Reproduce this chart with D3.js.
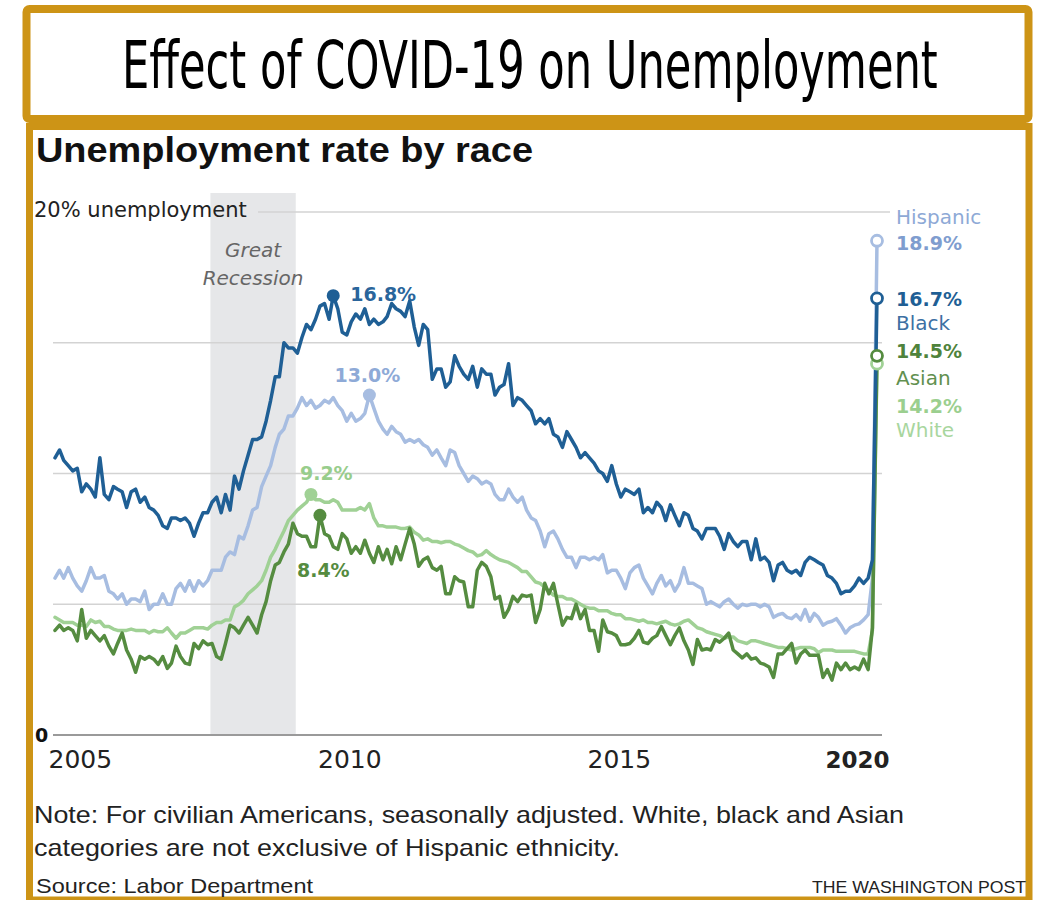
<!DOCTYPE html>
<html>
<head>
<meta charset="utf-8">
<script src="https://cdn.jsdelivr.net/npm/d3@7"></script>
<style>
  html, body { margin: 0; padding: 0; background: #ffffff; }
  svg { display: block; }
</style>
</head>
<body>
<svg id="chart" width="1043" height="900"></svg>
<script>
// ---------------- DATA (monthly, Jan 2005 – Apr 2020, percent) ----------------
const startMonth = "2005-01";
const endMonth = "2020-04";

const black = [
  10.6, 10.9, 10.5, 10.3, 10.1, 10.2, 9.3, 9.6, 9.4, 9.1, 10.6, 9.2,
  9.0, 9.5, 9.4, 9.3, 8.7, 9.3, 9.4, 8.9, 9.1, 8.7, 8.6, 8.4,
  8.0, 7.9, 8.3, 8.3, 8.2, 8.3, 8.1, 7.6, 8.1, 8.5, 8.5, 8.9,
  9.1, 8.5, 9.2, 8.6, 9.9, 9.4, 10.1, 10.7, 11.3, 11.3, 11.4, 12.0,
  12.8, 13.7, 13.7, 15.0, 14.8, 14.8, 14.6, 15.2, 15.7, 15.5, 15.9, 16.4,
  16.5, 15.9, 16.8, 16.3, 15.4, 15.3, 15.8, 16.1, 15.9, 16.3, 15.7, 15.9,
  15.7, 15.8, 16.0, 16.5, 16.3, 16.2, 16.0, 16.6, 15.6, 14.9, 15.7, 15.5,
  13.6, 14.0, 14.0, 13.3, 13.5, 14.5, 14.1, 13.8, 13.6, 14.1, 13.3, 14.0,
  13.8, 13.8, 13.0, 13.3, 13.4, 14.2, 12.6, 12.9, 12.8, 12.6, 12.4, 11.9,
  12.1, 11.9, 12.1, 11.5, 11.4, 11.0, 11.6, 11.3, 11.0, 10.6, 10.8, 10.6,
  10.4, 10.1, 10.0, 9.7, 10.3, 9.6, 9.1, 9.4, 9.3, 9.2, 9.4, 8.5,
  8.7, 8.5, 8.9, 8.7, 8.2, 8.8, 8.4, 8.0, 8.5, 8.4, 7.9, 7.8,
  7.5, 7.9, 7.9, 7.9, 7.6, 7.1, 7.7, 7.4, 7.2, 7.4, 7.4, 6.7,
  7.5, 6.7, 6.8, 6.6, 5.9, 6.5, 6.6, 6.3, 6.2, 6.3, 6.1, 6.6,
  6.8, 6.7, 6.6, 6.5, 6.1, 6.0, 5.8, 5.4, 5.5, 5.5, 5.7, 6.0,
  5.8, 6.0, 6.7, 16.7
];

const hispanic = [
  6.0, 6.3, 6.0, 6.4, 6.0, 5.7, 5.5, 5.9, 6.4, 6.0, 6.0, 6.1,
  5.5, 5.4, 5.2, 5.4, 5.0, 5.2, 5.2, 5.1, 5.5, 4.8, 5.0, 5.0,
  5.4, 5.0, 5.0, 5.6, 5.8, 5.5, 5.9, 5.5, 5.9, 5.7, 5.9, 6.3,
  6.3, 6.3, 6.8, 7.0, 6.9, 7.6, 7.5, 8.0, 8.6, 8.7, 9.5, 9.9,
  10.3, 11.0, 11.5, 11.7, 12.2, 12.2, 12.5, 12.9, 12.6, 12.8, 12.5, 12.6,
  12.8, 12.7, 12.9, 12.6, 12.4, 12.0, 12.3, 12.0, 12.1, 12.3, 13.0, 12.5,
  12.0, 11.7, 11.5, 11.8, 11.6, 11.5, 11.2, 11.3, 11.2, 11.3, 11.1, 11.0,
  10.7, 10.9, 10.6, 10.3, 10.9, 10.8, 10.3, 10.0, 9.7, 9.9, 9.8, 9.6,
  9.7, 9.6, 9.2, 9.0, 9.0, 9.4, 9.1, 8.9, 9.1, 8.6, 8.3, 8.2,
  7.8, 7.2, 7.7, 7.8, 7.5, 7.1, 6.8, 6.8, 6.4, 6.8, 6.8, 6.7,
  6.8, 6.7, 6.9, 6.2, 6.3, 6.3, 6.0, 5.6, 6.2, 6.4, 6.5, 6.0,
  5.7, 5.4, 5.8, 6.1, 5.7, 5.9, 5.5, 5.8, 6.4, 5.8, 5.8, 5.7,
  5.6, 5.0, 5.1, 5.0, 4.9, 5.1, 5.2, 5.0, 4.85, 5.0, 4.95, 5.0,
  5.0, 4.9, 5.0, 4.9, 4.5, 4.6, 4.65, 4.5, 4.45, 4.6, 4.4, 4.8,
  4.35, 4.65, 4.5, 4.2, 4.3, 4.35, 4.45, 4.2, 3.9, 4.1, 4.2, 4.25,
  4.4, 4.6, 6.0, 18.9
];

const white = [
  4.5, 4.4, 4.3, 4.3, 4.3, 4.2, 4.2, 4.15, 4.4, 4.3, 4.35, 4.15,
  4.15, 4.05, 4.0, 4.0, 4.0, 4.05, 4.0, 4.0, 4.0, 3.9, 4.0, 3.95,
  3.95, 4.1, 3.9, 3.7, 3.9, 3.9, 4.0, 4.1, 4.1, 4.1, 4.05, 4.2,
  4.3, 4.3, 4.4, 4.4, 4.9, 5.0, 5.15, 5.4, 5.55, 5.7, 5.9, 6.3,
  6.8, 7.1, 7.45, 7.8, 8.2, 8.4, 8.6, 8.75, 8.9, 9.2, 9.0, 9.0,
  8.9, 8.9, 9.0, 8.9, 8.6, 8.6, 8.6, 8.6, 8.7, 8.6, 8.85, 8.3,
  8.0, 8.0, 7.95, 7.95, 7.95, 7.9, 7.9, 7.95, 7.75, 7.65, 7.45, 7.5,
  7.4, 7.4, 7.35, 7.4, 7.4, 7.3, 7.25, 7.15, 7.05, 7.0, 6.85, 6.9,
  7.05, 6.9, 6.8, 6.7, 6.65, 6.6, 6.5, 6.4, 6.25, 6.25, 6.05, 5.85,
  5.8, 5.65, 5.5, 5.35, 5.3, 5.3, 5.2, 5.2, 5.1, 5.0, 4.9, 4.85,
  4.85, 4.75, 4.75, 4.75, 4.65, 4.6, 4.6, 4.45, 4.45, 4.4, 4.35, 4.4,
  4.3, 4.3, 4.25, 4.3, 4.35, 4.25, 4.2, 4.25, 4.35, 4.4, 4.25, 4.1,
  4.05, 3.95, 3.9, 3.85, 3.8, 3.7, 3.75, 3.75, 3.6, 3.55, 3.5, 3.6,
  3.6, 3.55, 3.5, 3.45, 3.4, 3.35, 3.35, 3.3, 3.25, 3.3, 3.35, 3.35,
  3.35, 3.3, 3.15, 3.25, 3.25, 3.25, 3.2, 3.2, 3.2, 3.2, 3.2, 3.15,
  3.1, 3.1, 4.0, 14.2
];

const asian = [
  4.0, 4.2, 4.0, 4.1, 4.0, 3.6, 4.8, 3.7, 4.0, 3.8, 3.6, 3.8,
  3.4, 3.1, 3.5, 3.9, 3.25, 2.9, 2.4, 3.0, 2.9, 3.0, 2.9, 2.7,
  3.0, 2.55, 2.75, 3.4, 3.0, 2.75, 2.7, 3.5, 3.3, 3.6, 3.45, 3.5,
  3.0, 2.9, 3.5, 4.2, 4.1, 3.9, 4.2, 4.5, 4.2, 3.9, 4.6, 5.1,
  5.9, 6.5, 6.6, 7.0, 7.3, 8.1, 7.7, 7.6, 7.6, 7.2, 7.2, 8.4,
  7.7, 7.6, 7.2, 7.1, 7.7, 7.5, 6.95, 7.2, 6.95, 7.45, 6.95, 6.6,
  7.2, 6.7, 7.1, 6.55, 7.2, 6.7, 7.3, 7.9, 7.3, 6.45, 6.7, 6.8,
  6.4, 6.3, 6.45, 5.4, 5.4, 6.05, 5.9, 5.85, 4.9, 4.9, 6.3, 6.6,
  6.45, 6.05, 5.2, 5.3, 4.5, 4.8, 5.3, 5.1, 5.35, 5.3, 5.35, 4.3,
  4.8, 5.8, 5.4, 5.8, 5.0, 4.2, 4.5, 4.45, 5.0, 4.45, 4.8, 4.0,
  4.0, 3.2, 4.4, 3.95, 3.9, 3.8, 3.45, 3.45, 3.5, 3.7, 4.0, 3.55,
  3.5, 3.7, 3.8, 4.15, 3.8, 3.45, 3.8, 4.1, 3.6, 3.25, 2.7, 3.65,
  3.25, 3.3, 3.25, 3.65, 3.55, 3.7, 3.9, 3.25, 3.1, 2.95, 3.1, 2.9,
  2.95, 2.75, 2.7, 2.6, 2.2, 3.1, 3.1, 3.3, 3.5, 2.75, 3.1, 3.25,
  3.05, 3.05, 3.05, 2.2, 2.5, 2.1, 2.75, 2.5, 2.75, 2.5, 2.6, 2.5,
  2.9, 2.5, 4.1, 14.5
];

const yTicks = [0, 5, 10, 15, 20];
const xTickYears = [2005, 2010, 2015, 2020];
const recession = ["2007-11-20", "2009-06-20"];

// peak annotations
const peaks = [
  { key: "black",    month: "2010-03", label: "16.8%" },
  { key: "hispanic", month: "2010-11", label: "13.0%" },
  { key: "white",    month: "2009-10", label: "9.2%" },
  { key: "asian",    month: "2009-12", label: "8.4%" }
];

const seriesNames = ["Hispanic", "Black", "Asian", "White"];
const latestLabels = ["18.9%", "16.7%", "14.5%", "14.2%"];

// ---------------- SETUP ----------------
const parseMonth = d3.timeParse("%Y-%m");
const parseDay = d3.timeParse("%Y-%m-%d");
const months = d3.timeMonth.range(parseMonth(startMonth), d3.timeMonth.offset(parseMonth(endMonth), 1));

const colors = {
  black: "#1f5f95",
  hispanic: "#a7bde1",
  white: "#a0d195",
  asian: "#558c40"
};
const seriesData = { black, hispanic, white, asian };

const svg = d3.select("#chart");
const gold = "#cd9416";

// frames
svg.append("rect").attr("x", 26.5).attr("y", 9).attr("width", 1002).attr("height", 110)
  .attr("rx", 3).attr("fill", "#fff").attr("stroke", gold).attr("stroke-width", 8);
svg.append("rect").attr("x", 29.5).attr("y", 126.5).attr("width", 999.5).attr("height", 773.5)
  .attr("fill", "#fff").attr("stroke", gold).attr("stroke-width", 7);

// main title: condensed look via horizontal scale fitted to the measured width
const titleG = svg.append("g");
const titleText = titleG.append("text")
  .attr("x", 0).attr("y", 0)
  .style("font-family", "'Liberation Sans Narrow', 'DejaVu Sans Condensed', 'Liberation Sans', sans-serif")
  .style("font-size", "65px").attr("fill", "#000")
  .text("Effect of COVID-19 on Unemployment");
const titleW = titleText.node().getComputedTextLength();
titleG.attr("transform", `translate(122,88) scale(${816 / titleW},1)`);

// chart title
svg.append("text")
  .attr("x", 36).attr("y", 162)
  .attr("textLength", 497).attr("lengthAdjust", "spacingAndGlyphs")
  .style("font-family", "'Liberation Sans', Arial, sans-serif")
  .style("font-weight", "bold").style("font-size", "35px").attr("fill", "#111")
  .text("Unemployment rate by race");

const x = d3.scaleTime()
  .domain([parseMonth(startMonth), parseMonth(endMonth)])
  .range([55, 877]);
const y = d3.scaleLinear().domain([0, 20]).range([735, 212]);

const chartFont = "'DejaVu Sans', sans-serif";

// recession band
svg.append("rect")
  .attr("x", x(parseDay(recession[0])))
  .attr("y", 193)
  .attr("width", x(parseDay(recession[1])) - x(parseDay(recession[0])))
  .attr("height", y(0) - 193)
  .attr("fill", "#e6e7e9");

const recX = (x(parseDay(recession[0])) + x(parseDay(recession[1]))) / 2;
svg.append("text").attr("x", recX).attr("y", 257).attr("text-anchor", "middle")
  .style("font-family", chartFont).style("font-style", "italic").style("font-size", "20px")
  .attr("fill", "#666").text("Great");
svg.append("text").attr("x", recX).attr("y", 285).attr("text-anchor", "middle")
  .style("font-family", chartFont).style("font-style", "italic").style("font-size", "20px")
  .attr("fill", "#666").text("Recession");

// gridlines
const grid = svg.append("g");
grid.selectAll("line").data(yTicks).join("line")
  .attr("x1", d => d === 20 ? 258 : 53)
  .attr("x2", d => d === 20 ? 890 : 882)
  .attr("y1", d => y(d)).attr("y2", d => y(d))
  .attr("stroke", d => d === 0 ? "#9a9a9a" : "#d3d3d3")
  .attr("stroke-width", d => d === 0 ? 2 : 1.4);

svg.append("text").attr("x", 34).attr("y", y(20) + 5)
  .style("font-family", chartFont).style("font-size", "21px").attr("fill", "#222")
  .text("20% unemployment");
svg.append("text").attr("x", 35).attr("y", y(0) + 7)
  .style("font-family", chartFont).style("font-weight", "bold").style("font-size", "19px").attr("fill", "#111")
  .text("0");

// x axis
const xAxis = d3.axisBottom(x)
  .tickValues(xTickYears.map(yr => new Date(yr, 0, 1)))
  .tickSize(0)
  .tickFormat(d3.timeFormat("%Y"));
const gx = svg.append("g").attr("transform", `translate(0,${y(0)})`).call(xAxis);
gx.select(".domain").remove();
gx.selectAll(".tick text")
  .attr("y", 33).attr("dy", 0)
  .style("font-family", chartFont)
  .style("font-size", d => d.getFullYear() === 2020 ? "23px" : "25px")
  .style("font-weight", d => d.getFullYear() === 2020 ? "bold" : "normal")
  .attr("fill", "#222")
  .attr("text-anchor", d => d.getFullYear() === 2020 ? "end" : "start")
  .attr("x", d => d.getFullYear() === 2020 ? x(parseMonth(endMonth)) + 12 - x(d) : -7);

// lines
const line = d3.line()
  .x((d, i) => x(months[i]))
  .y(d => y(d));

const drawOrder = ["hispanic", "white", "asian", "black"];
svg.append("g").selectAll("path").data(drawOrder).join("path")
  .attr("d", k => line(seriesData[k]))
  .attr("fill", "none")
  .attr("stroke", k => colors[k])
  .attr("stroke-width", 3.5)
  .attr("stroke-linejoin", "round")
  .attr("stroke-linecap", "round");

// peak dots and labels
const peakLabelColors = { black: "#2a659b", hispanic: "#8eaad7", white: "#98cd8c", asian: "#558b40" };
const peakOffsets = {
  black: { dx: 17, dy: 5, anchor: "start" },
  hispanic: { dx: -2, dy: -13, anchor: "middle" },
  white: { dx: -11, dy: -14, anchor: "start" },
  asian: { dx: -23, dy: 62, anchor: "start" }
};
peaks.forEach(p => {
  const m = parseMonth(p.month);
  const idx = months.findIndex(d => +d === +m);
  const v = seriesData[p.key][idx];
  const cx = x(m), cy = y(v);
  svg.append("circle").attr("cx", cx).attr("cy", cy).attr("r", 6.5).attr("fill", colors[p.key]);
  const o = peakOffsets[p.key];
  svg.append("text").attr("x", cx + o.dx).attr("y", cy + o.dy)
    .attr("text-anchor", o.anchor)
    .style("font-family", chartFont).style("font-weight", "bold").style("font-size", "19px")
    .attr("fill", peakLabelColors[p.key]).text(p.label);
});

// latest-value circles
const lastIdx = months.length - 1;
const endX = x(months[lastIdx]);
["white", "asian", "black", "hispanic"].forEach(k => {
  svg.append("circle").attr("cx", endX).attr("cy", y(seriesData[k][lastIdx])).attr("r", 5.5)
    .attr("fill", "#fff").attr("stroke", colors[k]).attr("stroke-width", 2.8);
});

// right labels
const labX = 896;
const rightLabels = [
  { t: seriesNames[0], y: 224, bold: false, c: "#8ea9d6" },
  { t: latestLabels[0], y: 250, bold: true, c: "#7f9dcf" },
  { t: latestLabels[1], y: 306, bold: true, c: "#1f5f95" },
  { t: seriesNames[1], y: 330, bold: false, c: "#3d70a3" },
  { t: latestLabels[2], y: 358, bold: true, c: "#4f833c" },
  { t: seriesNames[2], y: 385, bold: false, c: "#62904f" },
  { t: latestLabels[3], y: 413, bold: true, c: "#9bcf8f" },
  { t: seriesNames[3], y: 437, bold: false, c: "#a8d69e" }
];
svg.append("g").selectAll("text").data(rightLabels).join("text")
  .attr("x", labX).attr("y", d => d.y)
  .style("font-family", chartFont)
  .style("font-size", d => d.bold ? "19px" : "20px")
  .style("font-weight", d => d.bold ? "bold" : "normal")
  .attr("fill", d => d.c)
  .text(d => d.t);

// notes
const noteFont = "'Liberation Sans', Arial, sans-serif";
svg.append("text").attr("x", 34).attr("y", 823)
  .attr("textLength", 870).attr("lengthAdjust", "spacingAndGlyphs")
  .style("font-family", noteFont).style("font-size", "24px").attr("fill", "#222")
  .text("Note: For civilian Americans, seasonally adjusted. White, black and Asian");
svg.append("text").attr("x", 34).attr("y", 856)
  .attr("textLength", 586).attr("lengthAdjust", "spacingAndGlyphs")
  .style("font-family", noteFont).style("font-size", "24px").attr("fill", "#222")
  .text("categories are not exclusive of Hispanic ethnicity.");
svg.append("text").attr("x", 36).attr("y", 893)
  .attr("textLength", 277).attr("lengthAdjust", "spacingAndGlyphs")
  .style("font-family", noteFont).style("font-size", "21px").attr("fill", "#222")
  .text("Source: Labor Department");
svg.append("text").attr("x", 1026).attr("y", 893).attr("text-anchor", "end")
  .attr("textLength", 214).attr("lengthAdjust", "spacingAndGlyphs")
  .style("font-family", noteFont).style("font-size", "17px").attr("fill", "#222")
  .text("THE WASHINGTON POST");
</script>
</body>
</html>
